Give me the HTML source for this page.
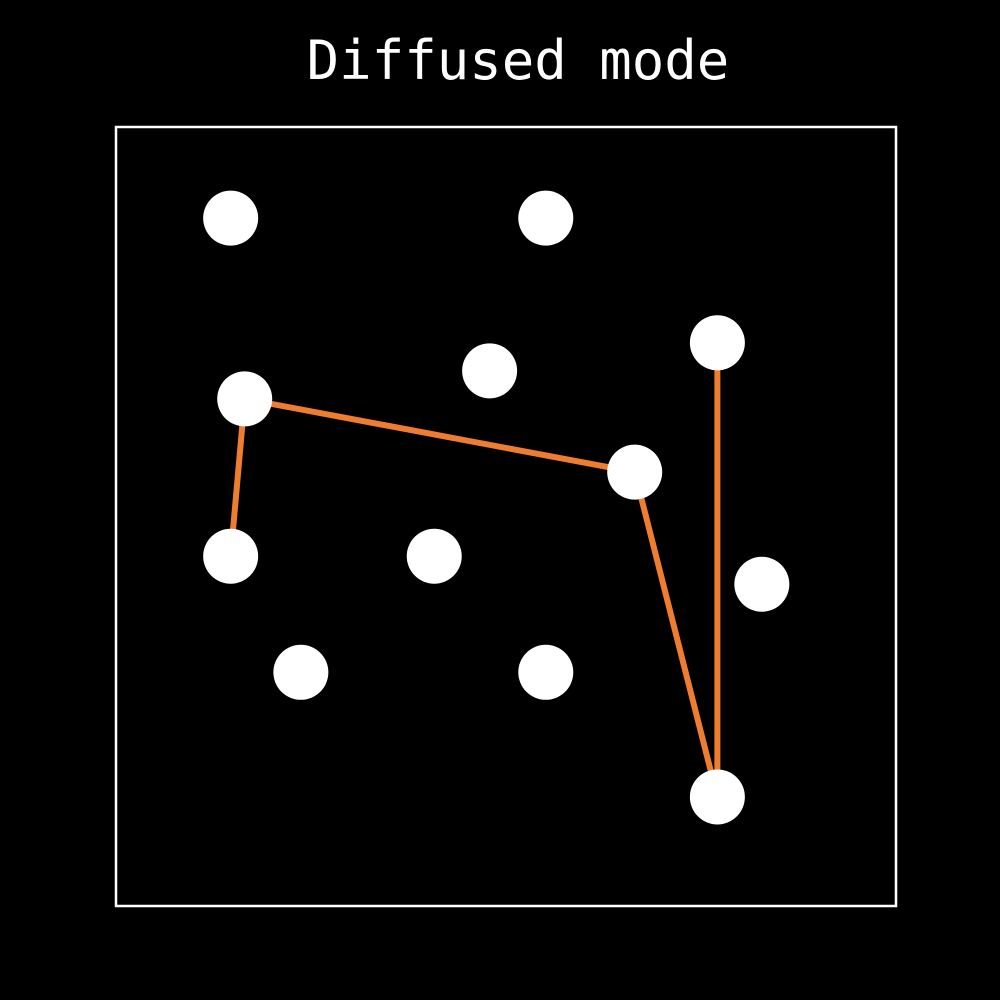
<!DOCTYPE html>
<html><head><meta charset="utf-8"><style>
html,body{margin:0;padding:0;background:#000;}
svg{display:block;}
</style></head><body>
<svg id="chart" width="1000" height="1000" viewBox="0 0 1000 1000">
<rect x="0" y="0" width="1000" height="1000" fill="#000"/>
<text x="518" y="79" text-anchor="middle" fill="#fff" font-family="'DejaVu Sans Mono','Liberation Mono',monospace" font-size="54">Diffused mode</text>
<rect x="116" y="127" width="780" height="779" fill="none" stroke="#fff" stroke-width="2.5"/>
<g id="lines"></g>
<g id="points"></g>
</svg>
<script>
const xValues = [1.47, 5.51, 7.71, 4.79, 1.65, 6.65, 1.47, 4.08, 8.28, 2.37, 5.51, 7.71];
const yValues = [8.83, 8.83, 7.23, 6.87, 6.51, 5.57, 4.49, 4.49, 4.13, 3.00, 3.00, 1.40];
const pathOrder = [6, 4, 5, 11, 2];

function xScale(v){ return 116 + v * 78; }
function yScale(v){ return 906 - v * 77.9; }

const NS = 'http://www.w3.org/2000/svg';
const lg = document.getElementById('lines');
const pg = document.getElementById('points');

for (let i = 0; i < pathOrder.length - 1; i++) {
  const a = pathOrder[i], b = pathOrder[i+1];
  const l = document.createElementNS(NS, 'line');
  l.setAttribute('x1', xScale(xValues[a]));
  l.setAttribute('y1', yScale(yValues[a]));
  l.setAttribute('x2', xScale(xValues[b]));
  l.setAttribute('y2', yScale(yValues[b]));
  l.setAttribute('stroke', '#ee7d2f');
  l.setAttribute('stroke-width', '6');
  
  
  lg.appendChild(l);
}

for (let i = 0; i < xValues.length; i++) {
  const c = document.createElementNS(NS, 'circle');
  c.setAttribute('cx', xScale(xValues[i]));
  c.setAttribute('cy', yScale(yValues[i]));
  c.setAttribute('r', 27.5);
  c.setAttribute('fill', '#fff');
  
  
  pg.appendChild(c);
}
</script>
</body></html>
